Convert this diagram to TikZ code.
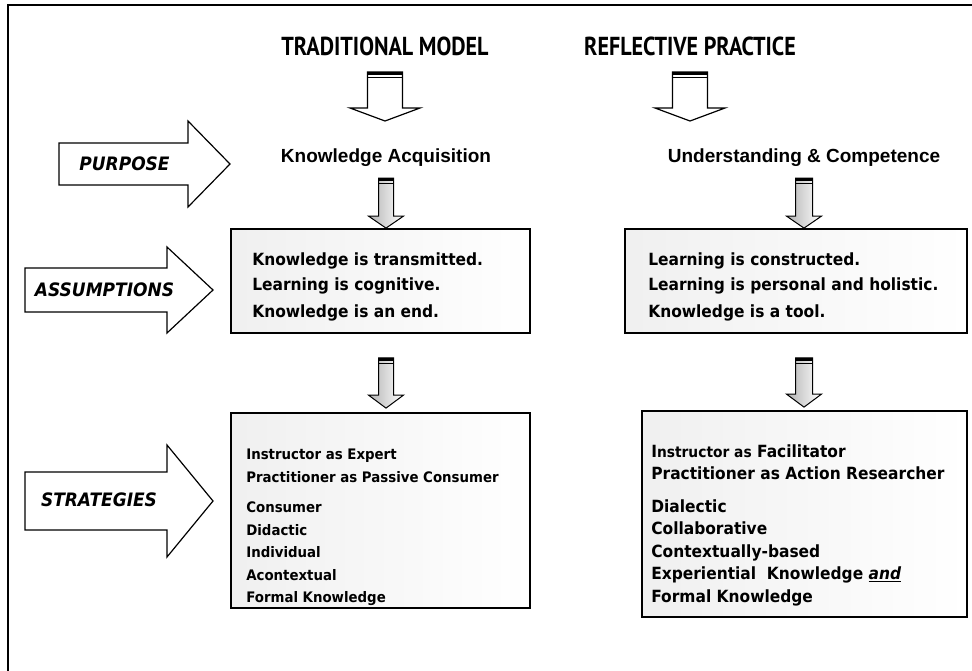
\documentclass[tikz,border=0pt]{standalone}
\usepackage{fontspec}
\setmainfont{DejaVu Sans}[FakeStretch=0.92]
\newfontfamily\headfont{PT Sans}
\newfontfamily\arialfont{Liberation Sans}
\usetikzlibrary{calc}

% block arrow pointing down: top, tip, shaft half width, head half width, head length, style
\newcommand{\blockdown}[6]{%
  \filldraw[#6] let \p1=(#1), \p2=(#2) in
    (\x1-#3pt,\y1) -- (\x1+#3pt,\y1) -- (\x1+#3pt,\y2+#5pt) -- (\x1+#4pt,\y2+#5pt)
    -- (\x1,\y2) -- (\x1-#4pt,\y2+#5pt) -- (\x1-#3pt,\y2+#5pt) -- cycle;
  \fill let \p1=(#1) in (\x1-#3pt,\y1) rectangle (\x1+#3pt,\y1-3pt);
  \draw[line width=0.8pt] let \p1=(#1) in (\x1-#3pt,\y1-5.5pt) -- (\x1+#3pt,\y1-5.5pt);
}
% block arrow pointing right: tail, tip, shaft half width, head half width, head length
\newcommand{\blockright}[5]{%
  \filldraw[sidearrow] let \p1=(#1), \p2=(#2) in
    (\x1,\y1+#3pt) -- (\x2-#5pt,\y1+#3pt) -- (\x2-#5pt,\y1+#4pt) -- (\x2,\y1)
    -- (\x2-#5pt,\y1-#4pt) -- (\x2-#5pt,\y1-#3pt) -- (\x1,\y1-#3pt) -- cycle;
}

\begin{document}
\begin{tikzpicture}
[
	x=1pt, y=-1pt,
	heading/.style = {font=\headfont\bfseries\fontsize{26}{30}\selectfont, inner sep=0pt, xscale=0.85, transform shape},
	aim/.style = {font=\arialfont\bfseries\fontsize{19}{22}\selectfont, inner sep=0pt},
	side/.style = {font=\bfseries\itshape\fontsize{18.5}{22}\selectfont, inner sep=0pt},
	box/.style = {draw, line width=1.8pt, left color=black!6, right color=white, inner sep=0pt},
	boxtext/.style = {font=\bfseries\fontsize{16.8}{25.5}\selectfont, align=left, inner sep=0pt, anchor=north west},
	listtext/.style = {font=\bfseries\fontsize{#1}{22.5}\selectfont, align=left, inner sep=0pt, anchor=north west},
	bigarrow/.style = {draw, line width=1.2pt, fill=white},
	smallarrow/.style = {draw, line width=1pt, left color=black!30, right color=white},
	sidearrow/.style = {draw, line width=1.2pt, fill=white},
]
\useasboundingbox (0,0) rectangle (972,670);

% frame
\draw[line width=1.5pt] (8,672) -- (8,5) -- (974,5);

% headings
\node[heading] (tradHead) at (385,46) {TRADITIONAL MODEL};
\node[heading] (reflHead) at (690,46) {REFLECTIVE PRACTICE};

% purpose
\node[aim] (tradAim) at (386,158) {Knowledge Acquisition};
\node[aim] (reflAim) at (804,158) {Understanding \& Competence};

% boxes
\node[box, minimum width=299, minimum height=104] (tradAssume) at (380.5,281) {};
\node[box, minimum width=342, minimum height=104] (reflAssume) at (796,281) {};
\node[box, minimum width=299, minimum height=195] (tradStrat) at (380.5,510.5) {};
\node[box, minimum width=325, minimum height=206] (reflStrat) at (804.5,514) {};

\node[boxtext] (tradAssumeTxt) at ($(tradAssume.north west)+(22,24)$)
	{Knowledge is transmitted.\\Learning is cognitive.\\[1pt]Knowledge is an end.};
\node[boxtext] (reflAssumeTxt) at ($(reflAssume.north west)+(24,24)$)
	{Learning is constructed.\\Learning is personal and holistic.\\[1pt]Knowledge is a tool.};

\node[listtext=14.5] (tradStratTxt) at ($(tradStrat.north west)+(16,37)$)
	{Instructor as Expert\\Practitioner as Passive Consumer\\[8pt]Consumer\\Didactic\\Individual\\Acontextual\\Formal Knowledge};
\node[listtext=16.8] (reflStratTxt) at ($(reflStrat.north west)+(10,34)$)
	{I{\fontsize{15}{22.5}\selectfont nstructor as} Facilitator\\Practitioner as Action Researcher\\[10pt]Dialectic\\Collaborative\\Contextually-based\\Experiential\ \ Knowledge \underline{\textit{and}}\\Formal Knowledge};

% down arrows
\coordinate (tradTopS) at (385,72);
\coordinate (tradTopE) at (385,121);
\coordinate (reflTopS) at (690,72);
\coordinate (reflTopE) at (690,121);
\blockdown{tradTopS}{tradTopE}{17.5}{35}{13}{bigarrow}
\blockdown{reflTopS}{reflTopE}{17.5}{35}{13}{bigarrow}

\blockdown{$(tradAim.south)+(0,11)$}{tradAssume.north -| tradAim}{7.5}{17.5}{12}{smallarrow}
\blockdown{$(reflAim.south)+(0,11)$}{reflAssume.north -| reflAim}{8.5}{17.5}{12}{smallarrow}
\blockdown{$(tradAssume.south -| tradAim)+(0,24)$}{$(tradStrat.north -| tradAim)+(0,-4)$}{7.5}{17.5}{13}{smallarrow}
\blockdown{$(reflAssume.south -| reflAim)+(0,24)$}{$(reflStrat.north -| reflAim)+(0,-3)$}{8.5}{17.5}{13}{smallarrow}

% side arrows
\coordinate (purposeTail) at (59,164);
\coordinate (purposeTip) at (230,164);
\coordinate (assumeTail) at (25,290);
\coordinate (assumeTip) at (213,290);
\coordinate (stratTail) at (25,501);
\coordinate (stratTip) at (213,501);
\blockright{purposeTail}{purposeTip}{21}{43}{42}
\blockright{assumeTail}{assumeTip}{22}{43}{46}
\blockright{stratTail}{stratTip}{29}{56}{46}

\node[side] (purposeLbl) at (124.5,164) {PURPOSE};
\node[side] (assumeLbl) at (104.5,290) {ASSUMPTIONS};
\node[side] (stratLbl) at (99,500) {STRATEGIES};
\end{tikzpicture}
\end{document}
